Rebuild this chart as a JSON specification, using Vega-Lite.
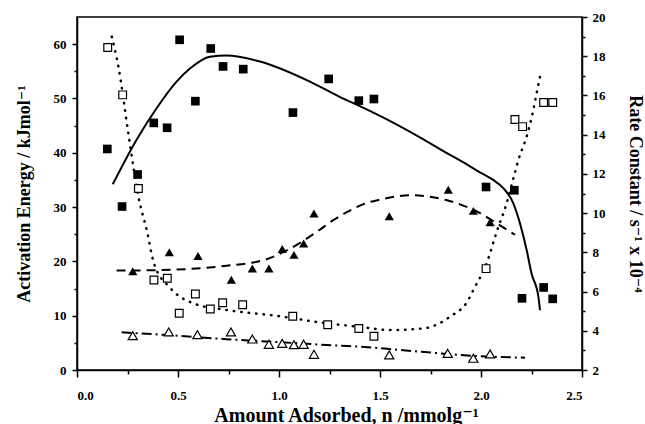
{
  "$schema": "https://vega.github.io/schema/vega-lite/v6.json",
  "width": 505,
  "height": 353,
  "autosize": {"type": "none"},
  "padding": {"left": 77, "top": 17, "right": 63, "bottom": 54},
  "background": "white",
  "config": {
    "view": {"stroke": "black", "strokeWidth": 1.5},
    "axis": {
      "grid": false,
      "domainColor": "black",
      "domainWidth": 1.5,
      "tickColor": "black",
      "tickWidth": 1.5,
      "labelColor": "black",
      "titleColor": "black",
      "labelFont": "'Liberation Serif', 'Times New Roman', 'DejaVu Serif', serif",
      "labelFontWeight": "bold",
      "labelFontSize": 13,
      "titleFont": "'Liberation Serif', 'Times New Roman', 'DejaVu Serif', serif",
      "titleFontWeight": "bold",
      "titleFontSize": 18
    }
  },
  "data": {
    "values": [
      {"s": "Ea1", "x": 0.15, "y": 40.7},
      {"s": "Ea1", "x": 0.223, "y": 30.1},
      {"s": "Ea1", "x": 0.30, "y": 36.0},
      {"s": "Ea1", "x": 0.38, "y": 45.5},
      {"s": "Ea1", "x": 0.446, "y": 44.6},
      {"s": "Ea1", "x": 0.508, "y": 60.8},
      {"s": "Ea1", "x": 0.586, "y": 49.5},
      {"s": "Ea1", "x": 0.662, "y": 59.2},
      {"s": "Ea1", "x": 0.723, "y": 55.9},
      {"s": "Ea1", "x": 0.823, "y": 55.4},
      {"s": "Ea1", "x": 1.069, "y": 47.4},
      {"s": "Ea1", "x": 1.246, "y": 53.6},
      {"s": "Ea1", "x": 1.395, "y": 49.6},
      {"s": "Ea1", "x": 1.47, "y": 49.9},
      {"s": "Ea1", "x": 2.025, "y": 33.7},
      {"s": "Ea1", "x": 2.165, "y": 33.1},
      {"s": "Ea1", "x": 2.203, "y": 13.2},
      {"s": "Ea1", "x": 2.31, "y": 15.2},
      {"s": "Ea1", "x": 2.355, "y": 13.1},

      {"s": "Ea1fit", "x": 0.177, "y": 34.2},
      {"s": "Ea1fit", "x": 0.295, "y": 42.4},
      {"s": "Ea1fit", "x": 0.394, "y": 48.2},
      {"s": "Ea1fit", "x": 0.493, "y": 53.1},
      {"s": "Ea1fit", "x": 0.559, "y": 55.5},
      {"s": "Ea1fit", "x": 0.658, "y": 57.7},
      {"s": "Ea1fit", "x": 0.741, "y": 57.9},
      {"s": "Ea1fit", "x": 0.906, "y": 56.8},
      {"s": "Ea1fit", "x": 1.153, "y": 53.1},
      {"s": "Ea1fit", "x": 1.30, "y": 50.3},
      {"s": "Ea1fit", "x": 1.40, "y": 48.6},
      {"s": "Ea1fit", "x": 1.50, "y": 46.8},
      {"s": "Ea1fit", "x": 1.70, "y": 42.8},
      {"s": "Ea1fit", "x": 1.847, "y": 39.6},
      {"s": "Ea1fit", "x": 1.896, "y": 38.6},
      {"s": "Ea1fit", "x": 1.995, "y": 36.4},
      {"s": "Ea1fit", "x": 2.06, "y": 35.0},
      {"s": "Ea1fit", "x": 2.11, "y": 33.5},
      {"s": "Ea1fit", "x": 2.16, "y": 30.7},
      {"s": "Ea1fit", "x": 2.193, "y": 27.0},
      {"s": "Ea1fit", "x": 2.226, "y": 22.1},
      {"s": "Ea1fit", "x": 2.25, "y": 17.8},
      {"s": "Ea1fit", "x": 2.284, "y": 13.5},
      {"s": "Ea1fit", "x": 2.292, "y": 11.0},

      {"s": "Ea2", "x": 0.276, "y": 18.2},
      {"s": "Ea2", "x": 0.457, "y": 21.7},
      {"s": "Ea2", "x": 0.599, "y": 21.0},
      {"s": "Ea2", "x": 0.764, "y": 16.6},
      {"s": "Ea2", "x": 0.868, "y": 18.7},
      {"s": "Ea2", "x": 0.95, "y": 18.7},
      {"s": "Ea2", "x": 1.016, "y": 22.3},
      {"s": "Ea2", "x": 1.074, "y": 21.2},
      {"s": "Ea2", "x": 1.122, "y": 23.3},
      {"s": "Ea2", "x": 1.173, "y": 28.8},
      {"s": "Ea2", "x": 1.546, "y": 28.3},
      {"s": "Ea2", "x": 1.838, "y": 33.2},
      {"s": "Ea2", "x": 1.962, "y": 29.3},
      {"s": "Ea2", "x": 2.045, "y": 27.2},

      {"s": "Ea2fit", "x": 0.196, "y": 18.3},
      {"s": "Ea2fit", "x": 0.41, "y": 18.4},
      {"s": "Ea2fit", "x": 0.741, "y": 19.2},
      {"s": "Ea2fit", "x": 0.939, "y": 20.4},
      {"s": "Ea2fit", "x": 1.016, "y": 21.6},
      {"s": "Ea2fit", "x": 1.182, "y": 25.3},
      {"s": "Ea2fit", "x": 1.261, "y": 27.4},
      {"s": "Ea2fit", "x": 1.343, "y": 29.2},
      {"s": "Ea2fit", "x": 1.421, "y": 30.6},
      {"s": "Ea2fit", "x": 1.503, "y": 31.4},
      {"s": "Ea2fit", "x": 1.586, "y": 32.0},
      {"s": "Ea2fit", "x": 1.665, "y": 32.2},
      {"s": "Ea2fit", "x": 1.744, "y": 31.9},
      {"s": "Ea2fit", "x": 1.827, "y": 31.3},
      {"s": "Ea2fit", "x": 1.896, "y": 30.5},
      {"s": "Ea2fit", "x": 1.995, "y": 28.9},
      {"s": "Ea2fit", "x": 2.078, "y": 27.0},
      {"s": "Ea2fit", "x": 2.168, "y": 24.9},

      {"s": "k1", "x": 0.152, "y": 18.44},
      {"s": "k1", "x": 0.226, "y": 16.03},
      {"s": "k1", "x": 0.304, "y": 11.25},
      {"s": "k1", "x": 0.381, "y": 6.59},
      {"s": "k1", "x": 0.447, "y": 6.68},
      {"s": "k1", "x": 0.506, "y": 4.89},
      {"s": "k1", "x": 0.586, "y": 5.88},
      {"s": "k1", "x": 0.66, "y": 5.11},
      {"s": "k1", "x": 0.721, "y": 5.43},
      {"s": "k1", "x": 0.82, "y": 5.33},
      {"s": "k1", "x": 1.068, "y": 4.74},
      {"s": "k1", "x": 1.241, "y": 4.31},
      {"s": "k1", "x": 1.395, "y": 4.12},
      {"s": "k1", "x": 1.47, "y": 3.72},
      {"s": "k1", "x": 2.025, "y": 7.17},
      {"s": "k1", "x": 2.168, "y": 14.77},
      {"s": "k1", "x": 2.206, "y": 14.41},
      {"s": "k1", "x": 2.31, "y": 15.64},
      {"s": "k1", "x": 2.355, "y": 15.64},

      {"s": "k1fit", "x": 0.172, "y": 19.0},
      {"s": "k1fit", "x": 0.205, "y": 17.47},
      {"s": "k1fit", "x": 0.254, "y": 14.08},
      {"s": "k1fit", "x": 0.279, "y": 12.37},
      {"s": "k1fit", "x": 0.304, "y": 10.84},
      {"s": "k1fit", "x": 0.345, "y": 9.14},
      {"s": "k1fit", "x": 0.381, "y": 7.44},
      {"s": "k1fit", "x": 0.46, "y": 6.2},
      {"s": "k1fit", "x": 0.576, "y": 5.40},
      {"s": "k1fit", "x": 0.741, "y": 5.06},
      {"s": "k1fit", "x": 0.989, "y": 4.76},
      {"s": "k1fit", "x": 1.236, "y": 4.38},
      {"s": "k1fit", "x": 1.40, "y": 4.2},
      {"s": "k1fit", "x": 1.55, "y": 4.04},
      {"s": "k1fit", "x": 1.714, "y": 4.12},
      {"s": "k1fit", "x": 1.847, "y": 4.72},
      {"s": "k1fit", "x": 1.937, "y": 5.57},
      {"s": "k1fit", "x": 1.962, "y": 6.08},
      {"s": "k1fit", "x": 2.028, "y": 7.44},
      {"s": "k1fit", "x": 2.078, "y": 9.06},
      {"s": "k1fit", "x": 2.127, "y": 10.5},
      {"s": "k1fit", "x": 2.165, "y": 11.95},
      {"s": "k1fit", "x": 2.193, "y": 12.97},
      {"s": "k1fit", "x": 2.213, "y": 13.5},
      {"s": "k1fit", "x": 2.234, "y": 14.2},
      {"s": "k1fit", "x": 2.254, "y": 15.01},
      {"s": "k1fit", "x": 2.272, "y": 15.94},
      {"s": "k1fit", "x": 2.292, "y": 16.96},

      {"s": "k2", "x": 0.276, "y": 3.75},
      {"s": "k2", "x": 0.454, "y": 3.94},
      {"s": "k2", "x": 0.596, "y": 3.80},
      {"s": "k2", "x": 0.762, "y": 3.94},
      {"s": "k2", "x": 0.868, "y": 3.58},
      {"s": "k2", "x": 0.95, "y": 3.31},
      {"s": "k2", "x": 1.016, "y": 3.36},
      {"s": "k2", "x": 1.074, "y": 3.29},
      {"s": "k2", "x": 1.122, "y": 3.31},
      {"s": "k2", "x": 1.173, "y": 2.80},
      {"s": "k2", "x": 1.546, "y": 2.77},
      {"s": "k2", "x": 1.835, "y": 2.85},
      {"s": "k2", "x": 1.962, "y": 2.60},
      {"s": "k2", "x": 2.045, "y": 2.82},

      {"s": "k2fit", "x": 0.221, "y": 3.92},
      {"s": "k2fit", "x": 0.5, "y": 3.75},
      {"s": "k2fit", "x": 0.741, "y": 3.57},
      {"s": "k2fit", "x": 1.0, "y": 3.42},
      {"s": "k2fit", "x": 1.3, "y": 3.24},
      {"s": "k2fit", "x": 1.4, "y": 3.19},
      {"s": "k2fit", "x": 1.6, "y": 3.02},
      {"s": "k2fit", "x": 1.797, "y": 2.85},
      {"s": "k2fit", "x": 2.0, "y": 2.70},
      {"s": "k2fit", "x": 2.218, "y": 2.63}
    ]
  },
  "encoding": {
    "x": {
      "field": "x",
      "type": "quantitative",
      "scale": {"domain": [0, 2.5], "nice": false},
      "axis": {
        "title": "Amount Adsorbed, n /mmolg⁻¹",
        "titleFontSize": 20,
        "titleX": 269,
        "titleAlign": "center",
        "values": [0, 0.25, 0.5, 0.75, 1, 1.25, 1.5, 1.75, 2, 2.25, 2.5],
        "labelExpr": "datum.value % 0.5 === 0 ? format(datum.value, '.1f') : ''",
        "tickSize": {"condition": {"test": "datum.value % 0.5 === 0", "value": 7}, "value": 4},
        "labelPadding": 12,
        "titlePadding": 3
      }
    }
  },
  "layer": [
    {
      "encoding": {
        "y": {
          "field": "y",
          "type": "quantitative",
          "scale": {"domain": [0, 65], "nice": false, "zero": false},
          "axis": {
            "title": "Activation Energy / kJmol⁻¹",
            "values": [0, 5, 10, 15, 20, 25, 30, 35, 40, 45, 50, 55, 60],
            "labelExpr": "datum.value % 10 === 0 ? datum.value : ''",
            "tickSize": {"condition": {"test": "datum.value % 10 === 0", "value": 5}, "value": 3},
            "labelPadding": 6,
            "titlePadding": 20
          }
        }
      },
      "layer": [
        {
          "transform": [{"filter": "datum.s === 'Ea1fit'"}],
          "mark": {"type": "line", "color": "black", "strokeWidth": 2, "interpolate": "monotone"}
        },
        {
          "transform": [{"filter": "datum.s === 'Ea2fit'"}],
          "mark": {"type": "line", "color": "black", "strokeWidth": 2, "strokeDash": [9, 6], "interpolate": "monotone"}
        },
        {
          "transform": [{"filter": "datum.s === 'Ea1'"}],
          "mark": {"type": "point", "shape": "square", "filled": true, "color": "black", "size": 75, "opacity": 1}
        },
        {
          "transform": [{"filter": "datum.s === 'Ea2'"}],
          "mark": {"type": "point", "shape": "triangle-up", "filled": true, "color": "black", "size": 85, "opacity": 1}
        }
      ]
    },
    {
      "encoding": {
        "y": {
          "field": "y",
          "type": "quantitative",
          "scale": {"domain": [2, 20], "nice": false, "zero": false},
          "axis": {
            "orient": "right",
            "title": "Rate Constant / s⁻¹ x 10⁻⁴",
            "values": [2, 3, 4, 5, 6, 7, 8, 9, 10, 11, 12, 13, 14, 15, 16, 17, 18, 19, 20],
            "labelExpr": "datum.value % 2 === 0 ? datum.value : ''",
            "tickSize": {"condition": {"test": "datum.value % 2 === 0", "value": 5}, "value": 3},
            "labelPadding": 5,
            "titlePadding": 20
          }
        }
      },
      "layer": [
        {
          "transform": [{"filter": "datum.s === 'k1fit'"}],
          "mark": {"type": "line", "color": "black", "strokeWidth": 2.5, "strokeDash": [0.5, 7], "strokeCap": "round", "interpolate": "monotone"}
        },
        {
          "transform": [{"filter": "datum.s === 'k2fit'"}],
          "mark": {"type": "line", "color": "black", "strokeWidth": 2, "strokeDash": [10, 4, 2, 4], "interpolate": "monotone"}
        },
        {
          "transform": [{"filter": "datum.s === 'k1'"}],
          "mark": {"type": "point", "shape": "square", "filled": true, "fill": "white", "stroke": "black", "strokeWidth": 1.2, "size": 60, "opacity": 1}
        },
        {
          "transform": [{"filter": "datum.s === 'k2'"}],
          "mark": {"type": "point", "shape": "triangle-up", "filled": true, "fill": "white", "stroke": "black", "strokeWidth": 1.2, "size": 85, "opacity": 1}
        }
      ]
    }
  ],
  "resolve": {"scale": {"y": "independent"}}
}
